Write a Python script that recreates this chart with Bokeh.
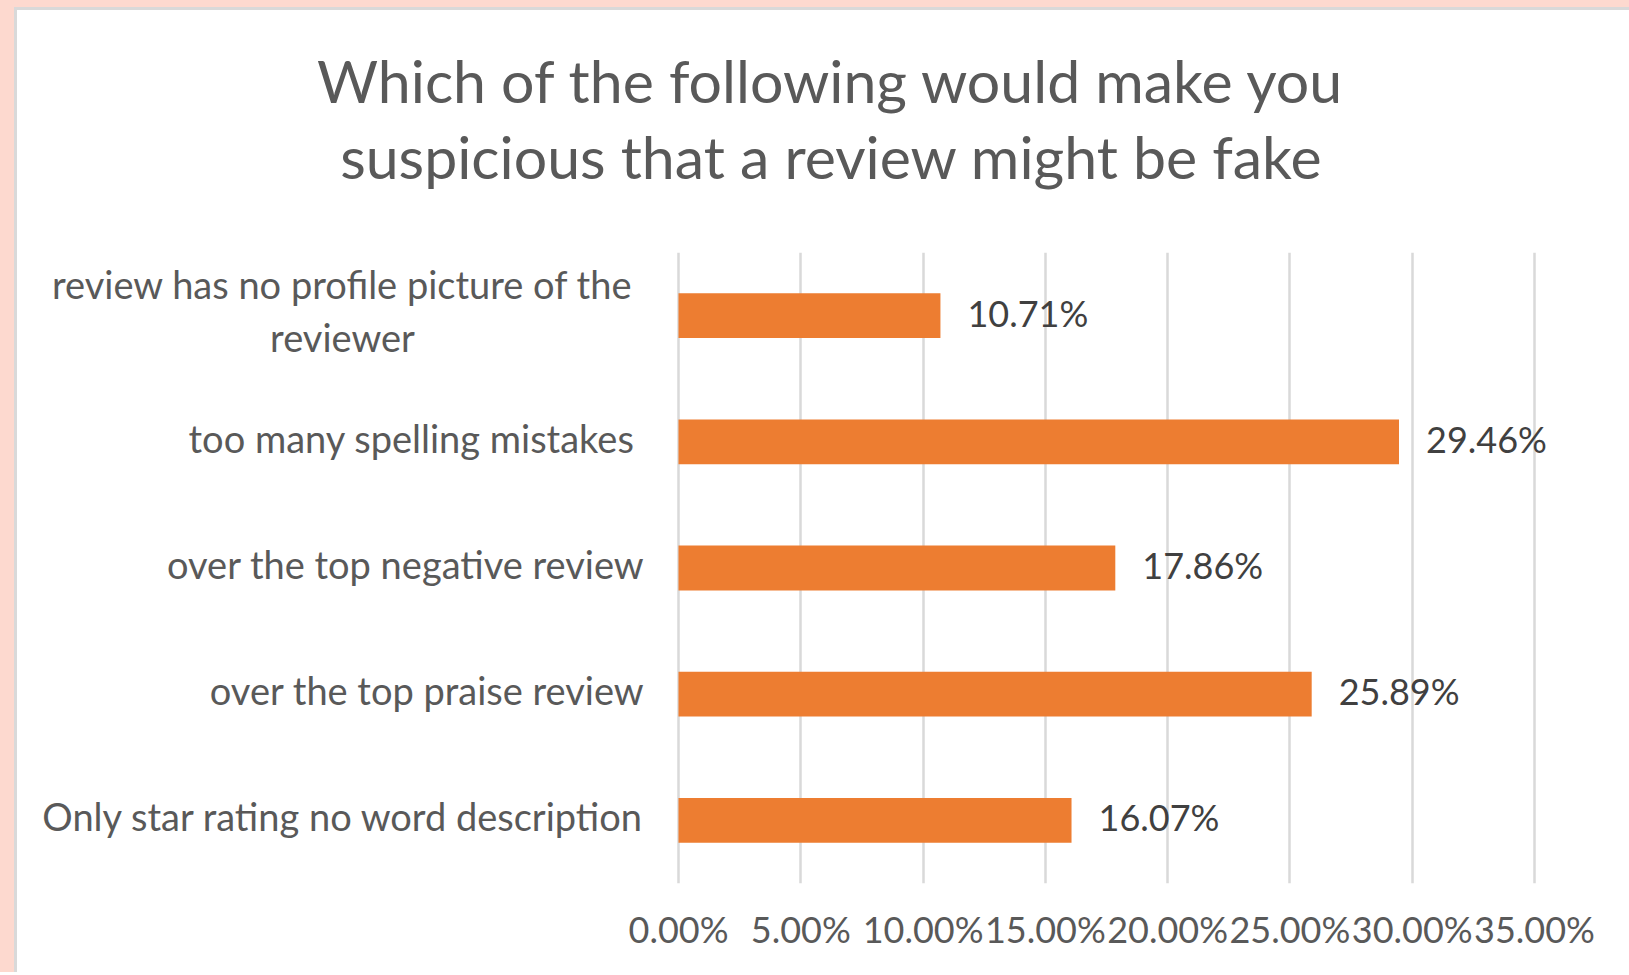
from bokeh.plotting import figure
from bokeh.models import ColumnDataSource, FactorRange, Range1d, FixedTicker, Div
from bokeh.layouts import row, column
from bokeh.core.properties import value
from bokeh.embed import file_html
from bokeh.resources import INLINE

# ---- data ----
categories = [
    "review has no profile picture of the\nreviewer",
    "too many spelling  mistakes",
    "over the top negative review",
    "over the top praise review",
    "Only star rating no word description",
]
values = [10.71, 29.46, 17.86, 25.89, 16.07]
tick_values = [0, 5, 10, 15, 20, 25, 30, 35]
tick_labels = ["0.00%", "5.00%", "10.00%", "15.00%", "20.00%", "25.00%", "30.00%", "35.00%"]
title_lines = ["Which of the following would make you",
               "suspicious that a review might be fake"]

# ---- layout constants (pixels) ----
FONT = "Lato"
PINK = "#FDD9CF"
EDGE = "#D9D9D9"
TEXT = "#595959"
PAGE_W = 1629
PINK_LEFT, PINK_TOP, EDGE_W = 14, 7, 3
FIG_LEFT_PAGE = PINK_LEFT + EDGE_W
FIG_TOP_PAGE = PINK_TOP + EDGE_W
FIG_W = PAGE_W - FIG_LEFT_PAGE
ZERO_PAGE_X = 678.0
PX_PER_PCT = 24.457
FRAME_LEFT_PAGE, FRAME_RIGHT_PAGE = 30, 1624
FRAME_TOP_PAGE, FRAME_BOTTOM_PAGE = 252, 883
PAGE_BOTTOM = 972
TITLE_CENTER_PAGE = 827
TITLE_BASELINES_PAGE = [102, 178]
TITLE_Y_FIX = -22
m0 = (0, 0, 0, 0)


def page_to_data(px):
    return (px - ZERO_PAGE_X) / PX_PER_PCT


# ---- title panel (pixel coordinates, y downwards) ----
TITLE_H = FRAME_TOP_PAGE - FIG_TOP_PAGE
t = figure(
    width=FIG_W, height=TITLE_H,
    x_range=Range1d(0, FIG_W), y_range=Range1d(TITLE_H, 0),
    output_backend="svg", toolbar_location=None,
    x_axis_location=None, y_axis_location=None, min_border=0,
    border_fill_color="white", background_fill_color="white",
    outline_line_color=None, margin=m0,
)
t.xgrid.visible = False
t.ygrid.visible = False
t.text(x=[TITLE_CENTER_PAGE - FIG_LEFT_PAGE] * len(title_lines),
       y=[b - FIG_TOP_PAGE for b in TITLE_BASELINES_PAGE], text=title_lines,
       y_offset=TITLE_Y_FIX,
       text_align="center", text_baseline="alphabetic",
       text_font=value(FONT), text_font_size="59px", text_color=TEXT)

# ---- main chart ----
MAIN_H = PAGE_BOTTOM - FRAME_TOP_PAGE
p = figure(
    width=FIG_W, height=MAIN_H,
    y_range=FactorRange(factors=list(reversed(categories))),
    x_range=Range1d(page_to_data(FRAME_LEFT_PAGE), page_to_data(FRAME_RIGHT_PAGE)),
    output_backend="svg", toolbar_location=None,
    min_border_left=FRAME_LEFT_PAGE - FIG_LEFT_PAGE,
    min_border_right=FIG_LEFT_PAGE + FIG_W - FRAME_RIGHT_PAGE,
    min_border_top=0,
    min_border_bottom=PAGE_BOTTOM - FRAME_BOTTOM_PAGE,
    border_fill_color="white", background_fill_color="white",
    outline_line_color=None, margin=m0,
)

src = ColumnDataSource(dict(
    cat=categories,
    val=values,
    lbl=[f"{v:.2f}%" for v in values],
))

p.hbar(y="cat", left=0, right="val", height=0.355, source=src,
       fill_color="#ED7D31", line_color=None)

p.text(x="val", y="cat", text="lbl", source=src, x_offset=27, y_offset=-3,
       text_baseline="middle", text_align="left",
       text_font=value(FONT), text_font_size="36px", text_color="#404040")

# category labels (drawn inside the frame to the left of the zero line)
single = [c for c in categories if "\n" not in c]
multi = [c for c in categories if "\n" in c]
p.text(x=[page_to_data(644)] * len(single), y=single, text=single, y_offset=-4,
       text_align="right", text_baseline="middle",
       text_font=value(FONT), text_font_size="38px", text_color=TEXT)
p.text(x=[page_to_data(342)] * len(multi), y=multi, text=multi, y_offset=-5,
       text_align="center", text_baseline="middle", text_line_height=1.14,
       text_font=value(FONT), text_font_size="38px", text_color=TEXT)

# axes
p.yaxis.visible = False
p.ygrid.grid_line_color = None
ticker = FixedTicker(ticks=tick_values)
p.xaxis.ticker = ticker
p.xaxis.major_label_overrides = {tv: tl for tv, tl in zip(tick_values, tick_labels)}
p.xaxis.axis_line_color = None
p.xaxis.major_tick_line_color = None
p.xaxis.minor_tick_line_color = None
p.xaxis.major_tick_out = 0
p.xaxis.major_label_standoff = 23
p.xaxis.major_label_text_font = FONT
p.xaxis.major_label_text_font_size = "36px"
p.xaxis.major_label_text_color = TEXT
p.xgrid.ticker = ticker
p.xgrid.grid_line_color = EDGE
p.xgrid.grid_line_width = 2.5

# ---- page frame (pink background strip and grey border) ----
FULL_H = PAGE_BOTTOM - PINK_TOP
top_pink = Div(text="", width=PAGE_W, height=PINK_TOP, margin=m0, styles={"background-color": PINK})
left_pink = Div(text="", width=PINK_LEFT, height=FULL_H, margin=m0, styles={"background-color": PINK})
left_edge = Div(text="", width=EDGE_W, height=FULL_H, margin=m0, styles={"background-color": EDGE})
top_edge = Div(text="", width=FIG_W, height=EDGE_W, margin=m0, styles={"background-color": EDGE})
layout = column(top_pink,
                row(left_pink, left_edge, column(top_edge, t, p, margin=m0), margin=m0),
                margin=m0)

open("out.html", "w").write(file_html(layout, INLINE))
